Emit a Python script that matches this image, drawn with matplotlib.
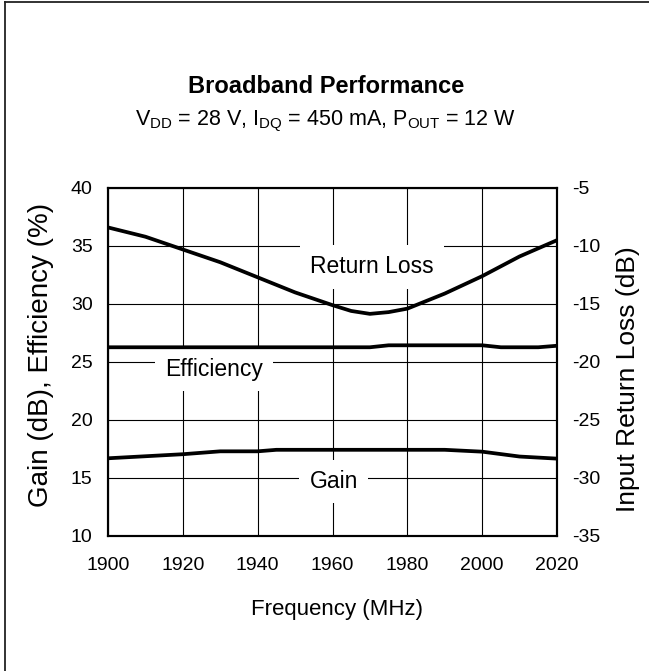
import matplotlib
matplotlib.use("Agg")
import matplotlib.pyplot as plt
from matplotlib.lines import Line2D

plt.rcParams['font.family'] = ['Liberation Sans', 'DejaVu Sans']
plt.rcParams['mathtext.fontset'] = 'custom'
plt.rcParams['mathtext.rm'] = 'Liberation Sans'
plt.rcParams['axes.unicode_minus'] = False

# Data
freq_rl = [1900, 1910, 1920, 1930, 1940, 1950, 1960, 1965, 1970, 1975, 1980, 1990, 2000, 2010, 2020]
return_loss = [-8.4, -9.2, -10.3, -11.4, -12.7, -14.0, -15.1, -15.6, -15.85, -15.7, -15.4, -14.1, -12.6, -10.9, -9.5]  # dB, right axis

freq_eff = [1900, 1920, 1940, 1960, 1970, 1975, 1980, 2000, 2005, 2015, 2020]
efficiency = [26.27, 26.27, 26.27, 26.27, 26.27, 26.44, 26.44, 26.44, 26.27, 26.27, 26.4]

freq_gain = [1900, 1920, 1930, 1940, 1945, 1960, 1980, 1990, 2000, 2010, 2020]
gain = [16.7, 17.05, 17.3, 17.3, 17.43, 17.43, 17.43, 17.43, 17.27, 16.85, 16.67]

x_ticks = [1900, 1920, 1940, 1960, 1980, 2000, 2020]
left_ticks = [10, 15, 20, 25, 30, 35, 40]
right_ticks = [-35, -30, -25, -20, -15, -10, -5]

W, H = 649, 671
fig = plt.figure(figsize=(W / 100, H / 100), dpi=100)
ax = fig.add_axes([108 / W, 1 - 536 / H, 449 / W, 348 / H])
ax2 = ax.twinx()

ax.set_xlim(1900, 2020)
ax.set_ylim(10, 40)
ax2.set_ylim(-35, -5)
ax.set_xticks(x_ticks)
ax.set_yticks(left_ticks)
ax2.set_yticks(right_ticks)
ax.grid(True, color='black', linewidth=0.8)
ax.set_axisbelow(True)

ax.plot(freq_eff, efficiency, color='black', linewidth=2.7, zorder=3)
ax.plot(freq_gain, gain, color='black', linewidth=2.7, zorder=3)
ax2.plot(freq_rl, return_loss, color='black', linewidth=2.7)

for a in (ax, ax2):
    for s in a.spines.values():
        s.set_linewidth(1.5)
    a.tick_params(length=0, labelsize=14, pad=11)
ax.tick_params(axis='x', pad=15)

box = dict(boxstyle='square,pad=0.45', facecolor='white', edgecolor='none')
ax.text(1970.6, 33.2, "Return Loss", ha='center', va='center', fontsize=16.5, bbox=box, zorder=2)
ax.text(1928.3, 24.35, "Efficiency", ha='center', va='center', fontsize=16.5, bbox=box, zorder=2)
ax.text(1960.4, 14.7, "Gain", ha='center', va='center', fontsize=16.5, bbox=box, zorder=2)

fig.text(337 / W, 1 - 610 / H, "Frequency (MHz)", ha='center', va='center', fontsize=16)
fig.text(41 / W, 1 - 355 / H, "Gain (dB), Efficiency (%)", ha='center', va='center',
         rotation=90, fontsize=20)
fig.text(628 / W, 1 - 379 / H, "Input Return Loss (dB)", ha='center', va='center',
         rotation=90, fontsize=19)

fig.text(326 / W, 1 - 93 / H, "Broadband Performance", ha='center', va='baseline',
         fontsize=17, fontweight='bold')
fig.text(325 / W, 1 - 125 / H,
         r"V$_{\mathrm{DD}}$ = 28 V, I$_{\mathrm{DQ}}$ = 450 mA, P$_{\mathrm{OUT}}$ = 12 W",
         ha='center', va='baseline', fontsize=15.5)

# page frame (top and left edges)
fig.add_artist(Line2D([5 / W, 5 / W], [0, 1 - 2 / H], transform=fig.transFigure,
                      color='#222222', linewidth=1.3))
fig.add_artist(Line2D([5 / W, 1], [1 - 2 / H, 1 - 2 / H], transform=fig.transFigure,
                      color='#222222', linewidth=1.3))

fig.savefig("out.png", dpi=100)
